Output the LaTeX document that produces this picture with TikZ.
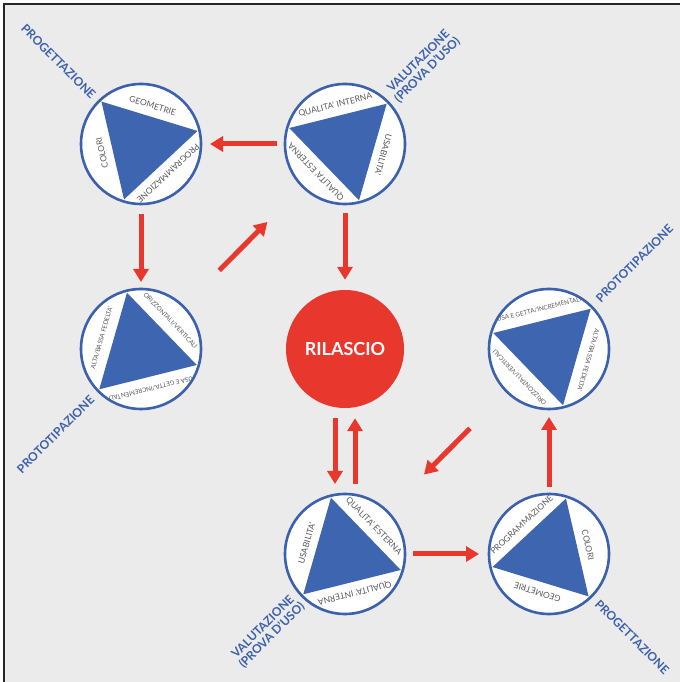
\documentclass[tikz,border=0pt]{standalone}
\usepackage{fontspec}
\setsansfont{Lato}
\usetikzlibrary{positioning, arrows.meta, calc}
\definecolor{cycleblue}{HTML}{3B60AC}
\definecolor{triblue}{HTML}{3E65B0}
\definecolor{relred}{HTML}{E8372C}
\definecolor{paper}{HTML}{EBEBEB}
\definecolor{seggray}{HTML}{5A5A5A}

\begin{document}
\begin{tikzpicture}[
            x=1pt, y=1pt,
            phase/.style={circle, draw=cycleblue, fill=white, line width=2.6pt, minimum size=120pt, inner sep=0pt, outer sep=0pt},
            tri/.style={fill=triblue},
            seg/.style={font=\sffamily\fontsize{8.5}{9}\selectfont, text=seggray, inner sep=0pt},
            segsmall/.style={seg, font=\sffamily\fontsize{6.3}{7}\selectfont},
            stagename/.style={font=\sffamily\bfseries\fontsize{12}{12.5}\selectfont, text=cycleblue, inner sep=0pt, align=center},
            flow/.style={draw=relred, line width=5pt, -{Triangle[length=13pt, width=15pt]}},
        ]
            \useasboundingbox (0,0) rectangle (680,682);
            \fill[white] (0,0) rectangle (680,682);
            \fill[paper] (4,0) rectangle (680,678);
            \draw[line width=2pt, black!85] (4,0) -- (4,678) -- (680,678);

            % circles
            \node[phase] (progtop) at (141,538) {};
            \node[phase] (valtop) at (345,538) {};
            \node[phase] (protleft) at (141,333) {};
            \node[phase] (protright) at (549,333) {};
            \node[phase] (valbot) at (345,128) {};
            \node[phase] (progbot) at (549,128) {};
            \node[circle, fill=relred, minimum size=118pt, inner sep=0pt, text=white,
                font=\sffamily\bfseries\fontsize{18}{20}\selectfont] (ril) at (345,333) {RILASCIO};

            % progettazione (top)
            \begin{scope}[shift={(progtop.center)}]
                \fill[tri] (13:58) -- (133:58) -- (253:58) -- cycle;
                \node[seg, rotate=-17] at (73:40) {GEOMETRIE};
                \node[seg, rotate=103] at (193:40) {COLORI};
                \node[seg, rotate=223] at (313:40) {PROGRAMMAZIONE};
            \end{scope}
            % valutazione (top)
            \begin{scope}[shift={(valtop.center)}]
                \fill[tri] (44:58) -- (164:58) -- (284:58) -- cycle;
                \node[seg, rotate=14] at (104:40) {QUALITA' INTERNA};
                \node[seg, rotate=134] at (224:40) {QUALITA' ESTERNA};
                \node[seg, rotate=254] at (344:40) {USABILITA'};
            \end{scope}
            % prototipazione (left)
            \begin{scope}[shift={(protleft.center)}]
                \fill[tri] (-16:58) -- (104:58) -- (224:58) -- cycle;
                \node[segsmall, rotate=-46] at (44:41) {ORIZZONTALI/VERTICALI};
                \node[segsmall, rotate=74] at (164:41) {ALTA/BASSA FEDELTA'};
                \node[segsmall, rotate=194] at (284:41) {USA E GETTA/INCREMENTALI};
            \end{scope}
            % prototipazione (right)
            \begin{scope}[shift={(protright.center)}]
                \fill[tri] (44:58) -- (164:58) -- (284:58) -- cycle;
                \node[segsmall, rotate=14] at (104:41) {USA E GETTA/INCREMENTALI};
                \node[segsmall, rotate=134] at (224:41) {ORIZZONTALI/VERTICALI};
                \node[segsmall, rotate=254] at (344:41) {ALTA/BASSA FEDELTA'};
            \end{scope}
            % valutazione (bottom)
            \begin{scope}[shift={(valbot.center)}]
                \fill[tri] (-16:58) -- (104:58) -- (224:58) -- cycle;
                \node[seg, rotate=-46] at (44:40) {QUALITA' ESTERNA};
                \node[seg, rotate=74] at (164:40) {USABILITA'};
                \node[seg, rotate=194] at (284:40) {QUALITA' INTERNA};
            \end{scope}
            % progettazione (bottom)
            \begin{scope}[shift={(progbot.center)}]
                \fill[tri] (73:58) -- (193:58) -- (313:58) -- cycle;
                \node[seg, rotate=43] at (133:40) {PROGRAMMAZIONE};
                \node[seg, rotate=-77] at (13:40) {COLORI};
                \node[seg, rotate=163] at (253:40) {GEOMETRIE};
            \end{scope}

            % phase names
            \node[stagename, rotate=-45, anchor=east] (progtopname) at ($(progtop)+(135:67)$) {PROGETTAZIONE};
            \node[stagename, rotate=45, anchor=west] (valtopname) at ($(valtop)+(45:67)$) {VALUTAZIONE\\(PROVA D'USO)};
            \node[stagename, rotate=45, anchor=east] (protleftname) at ($(protleft)+(225:69)$) {PROTOTIPAZIONE};
            \node[stagename, rotate=45, anchor=west] (protrightname) at ($(protright)+(45:69)$) {PROTOTIPAZIONE};
            \node[stagename, rotate=45, anchor=east] (valbotname) at ($(valbot)+(225:66)$) {VALUTAZIONE\\(PROVA D'USO)};
            \node[stagename, rotate=-45, anchor=west] (progbotname) at ($(progbot)+(315:68)$) {PROGETTAZIONE};

            % flow arrows
            \draw[flow, shorten <=8pt, shorten >=9pt] (valtop) -- (progtop);
            \draw[flow, shorten <=10pt, shorten >=7pt] (progtop) -- (protleft);
            \draw[flow, shorten <=51pt, shorten >=50pt] (protleft) -- (valtop);
            \draw[flow, shorten <=9pt, shorten >=10pt] (valtop) -- (ril);
            \draw[flow, shorten <=10pt, shorten >=10pt] ([xshift=-10pt]ril.south) -- ([xshift=-10pt]valbot.north);
            \draw[flow, shorten <=10pt, shorten >=10pt] ([xshift=10pt]valbot.north) -- ([xshift=10pt]ril.south);
            \draw[flow, shorten <=8pt, shorten >=10pt] (valbot) -- (progbot);
            \draw[flow, shorten <=7pt, shorten >=8pt] (progbot) -- (protright);
            \draw[flow, shorten <=52pt, shorten >=52pt] (protright) -- (valbot);
        \end{tikzpicture}
\end{document}
